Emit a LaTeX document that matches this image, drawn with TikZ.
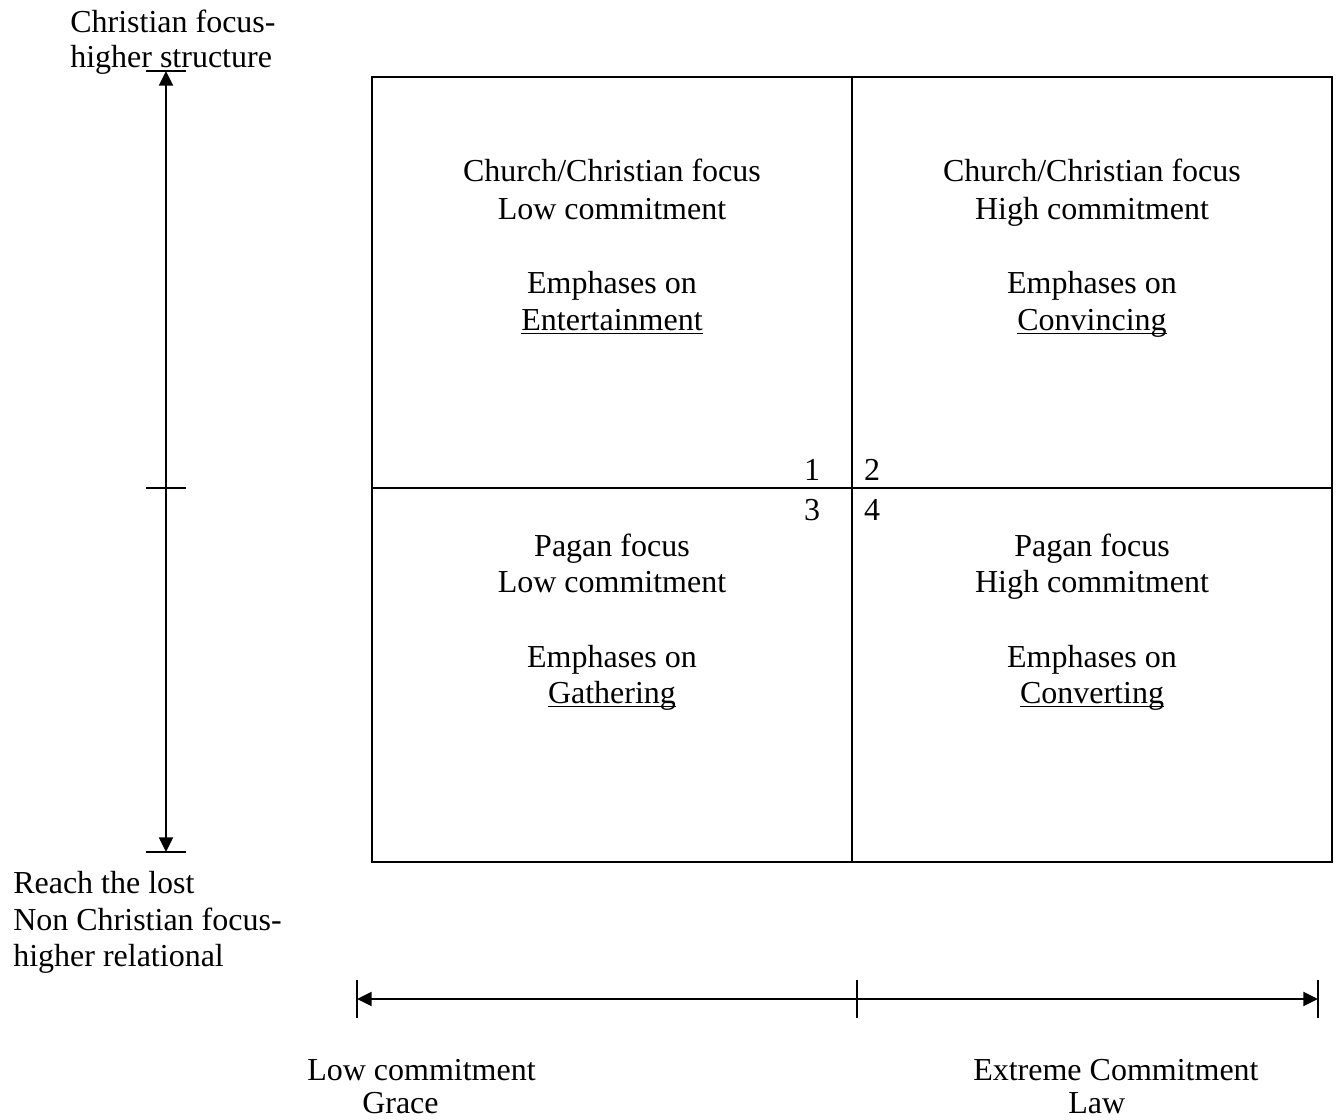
\documentclass[tikz,border=0pt]{standalone}
\usepackage{fontspec}
\setmainfont{Liberation Serif}
\usetikzlibrary{arrows.meta}
\newsavebox\ulbox
\newcommand\ulword[1]{\sbox\ulbox{#1}\rlap{\rule[-3.2pt]{\wd\ulbox}{1.1pt}}\usebox\ulbox}
\tikzset{
  txt/.style={font=\fontsize{24}{28}\selectfont, inner sep=0pt, anchor=base},
  ltxt/.style={txt, anchor=base west},
  frame/.style={line width=1.6pt},
  axis/.style={line width=1.5pt, {Triangle[length=11pt,width=10.5pt]}-{Triangle[length=11pt,width=10.5pt]}},
  tick/.style={line width=1.3pt}
}
\begin{document}
\begin{tikzpicture}[x=0.75pt,y=-0.75pt]
\useasboundingbox (0,0) rectangle (1336,1120);

% quadrant grid
\coordinate (bTL) at (372,77);
\coordinate (bBR) at (1332,862);
\draw[frame] (bTL) rectangle (bBR);
\coordinate (vTop) at (852,77);
\coordinate (vBot) at (852,862);
\coordinate (hL) at (372,488);
\coordinate (hR) at (1332,488);
\draw[frame] (vTop) -- (vBot);
\draw[frame] (hL) -- (hR);

% vertical axis
\coordinate (yTop) at (166,71);
\coordinate (yMid) at (166,488);
\coordinate (yBot) at (166,852);
\draw[axis] (yBot) -- (yTop);
\foreach \p in {yTop,yMid,yBot}
  \draw[tick] ([xshift=-15pt]\p) -- ([xshift=15pt]\p);

% horizontal axis
\coordinate (xL) at (357,999);
\coordinate (xM) at (857,999);
\coordinate (xR) at (1318,999);
\draw[axis] (xL) -- (xR);
\foreach \p in {xL,xM,xR}
  \draw[tick] ([yshift=14.5pt]\p) -- ([yshift=-14.5pt]\p);

% axis labels
\node[ltxt] (yt1) at (70,33) {Christian focus-};
\node[ltxt] (yt2) at (70,68) {higher structure};
\node[ltxt] (yb1) at (13,893) {Reach the lost};
\node[ltxt] (yb2) at (13,930) {Non Christian focus-};
\node[ltxt] (yb3) at (13,966) {higher relational};
\node[ltxt] (xl1) at (307,1080) {Low commitment};
\node[ltxt] (xl2) at (362,1113) {Grace};
\node[ltxt] (xr1) at (973,1080) {Extreme Commitment};
\node[ltxt] (xr2) at (1068,1113) {Law};

% quadrant 1
\node[txt] (q1a) at (612,182) {Church/Christian focus};
\node[txt] (q1b) at (612,220) {Low commitment};
\node[txt] (q1c) at (612,293) {Emphases on};
\node[txt] (q1d) at (612,330) {\ulword{Entertainment}};
% quadrant 2
\node[txt] (q2a) at (1092,182) {Church/Christian focus};
\node[txt] (q2b) at (1092,220) {High commitment};
\node[txt] (q2c) at (1092,293) {Emphases on};
\node[txt] (q2d) at (1092,330) {\ulword{Convincing}};
% quadrant 3
\node[txt] (q3a) at (612,556) {Pagan focus};
\node[txt] (q3b) at (612,592) {Low commitment};
\node[txt] (q3c) at (612,667) {Emphases on};
\node[txt] (q3d) at (612,703) {\ulword{Gathering}};
% quadrant 4
\node[txt] (q4a) at (1092,556) {Pagan focus};
\node[txt] (q4b) at (1092,592) {High commitment};
\node[txt] (q4c) at (1092,667) {Emphases on};
\node[txt] (q4d) at (1092,703) {\ulword{Converting}};

% quadrant numbers
\node[txt] (n1) at (812,480) {1};
\node[txt] (n2) at (872,480) {2};
\node[txt] (n3) at (812,520) {3};
\node[txt] (n4) at (872,520) {4};
\end{tikzpicture}
\end{document}
